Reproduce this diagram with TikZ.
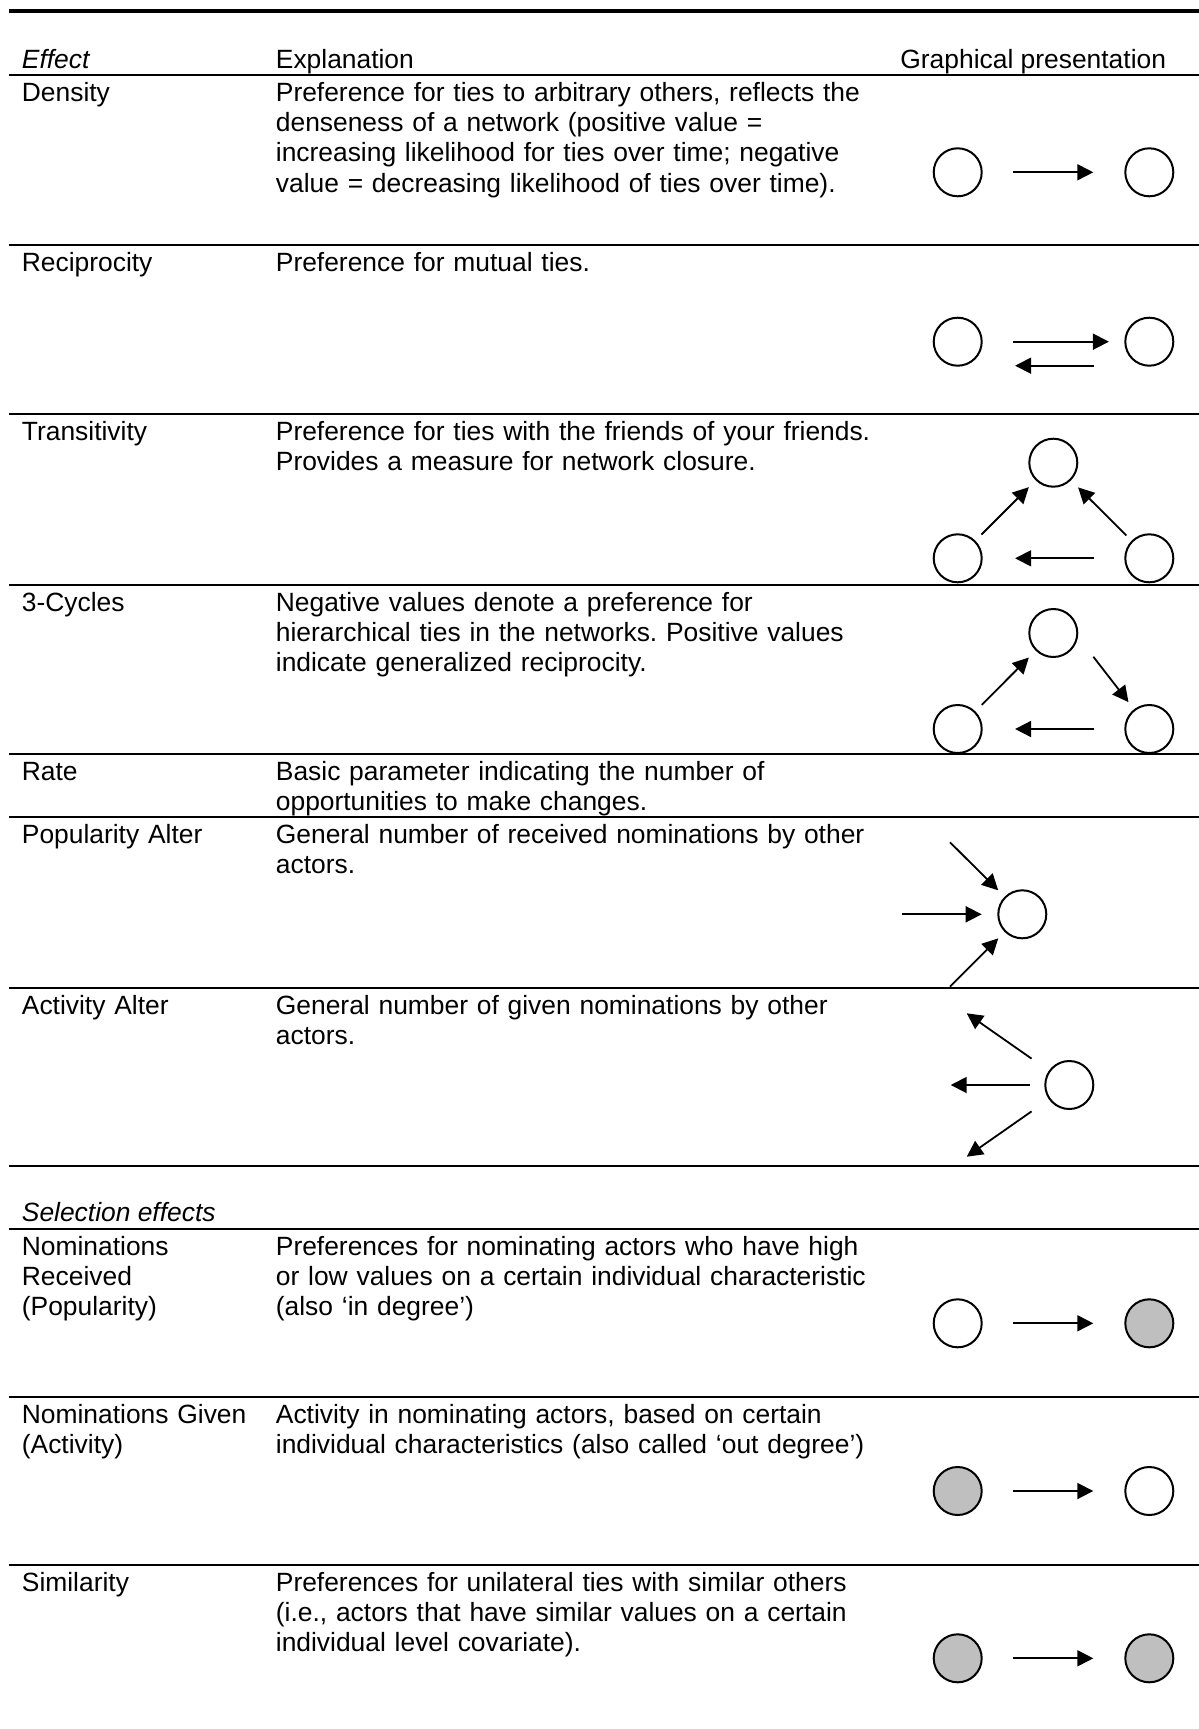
\documentclass[tikz,border=0pt]{standalone}
\usepackage{fontspec}
\setmainfont{Liberation Sans}
\usetikzlibrary{arrows.meta, positioning}
\frenchspacing

\tikzset{
  actor/.style={circle, draw, line width=1pt, minimum size=24pt, inner sep=0pt, outer sep=0pt},
  covar/.style={actor, fill=black!25},
  tie/.style={line width=0.9pt, -{Triangle[length=8pt, width=8pt]}},
  rule/.style={line width=1.1pt},
  lab/.style={anchor=base west, inner sep=0pt},
  eff/.style={lab, text width=130pt, align=left},
  expl/.style={lab, text width=320pt, align=left}
}

\begin{document}
\begin{tikzpicture}[x=0.5pt, y=-0.5pt, on grid, node distance=95.8pt,
    every node/.style={font=\fontsize{13.2}{15.2}\selectfont}]
  \useasboundingbox (0,0) rectangle (1199,1729);

  % table rules
  \draw[line width=2pt] (9,11) -- (1199,11);
  \foreach \y in {75,245,414,585,754,817,988,1166,1229,1397,1565}
    \draw[rule] (9,\y) -- (1199,\y);

  % header
  \node[lab] (hEff) at (21.5,68)  {\textit{Effect}};
  \node[lab] (hExp) at (275.5,68) {Explanation};
  \node[lab] (hGra) at (900,68)   {Graphical presentation};

  % texts
  \node[eff]  (effDen) at (21.5,101)  {Density};
  \node[expl] (expDen) at (275.5,101) {Preference for ties to arbitrary others, reflects the\\
    denseness of a network (positive value =\\
    increasing likelihood for ties over time; negative\\
    value = decreasing likelihood of ties over time).};
  \node[eff]  (effRec) at (21.5,271)  {Reciprocity};
  \node[expl] (expRec) at (275.5,271) {Preference for mutual ties.};
  \node[eff]  (effTra) at (21.5,440)  {Transitivity};
  \node[expl] (expTra) at (275.5,440) {Preference for ties with the friends of your friends.\\
    Provides a measure for network closure.};
  \node[eff]  (effCyc) at (21.5,611)  {3-Cycles};
  \node[expl] (expCyc) at (275.5,611) {Negative values denote a preference for\\
    hierarchical ties in the networks. Positive values\\
    indicate generalized reciprocity.};
  \node[eff]  (effRat) at (21.5,780)  {Rate};
  \node[expl] (expRat) at (275.5,780) {Basic parameter indicating the number of\\
    opportunities to make changes.};
  \node[eff]  (effPop) at (21.5,843)  {Popularity Alter};
  \node[expl] (expPop) at (275.5,843) {General number of received nominations by other\\
    actors.};
  \node[eff]  (effAct) at (21.5,1014)  {Activity Alter};
  \node[expl] (expAct) at (275.5,1014) {General number of given nominations by other\\
    actors.};
  \node[lab]  (hSel)   at (21.5,1221.5) {\textit{Selection effects}};
  \node[eff]  (effNomR) at (21.5,1255)  {Nominations\\ Received\\ (Popularity)};
  \node[expl] (expNomR) at (275.5,1255) {Preferences for nominating actors who have high\\
    or low values on a certain individual characteristic\\
    (also ‘in degree’)};
  \node[eff]  (effNomG) at (21.5,1423)  {Nominations Given\\ (Activity)};
  \node[expl] (expNomG) at (275.5,1423) {Activity in nominating actors, based on certain\\
    individual characteristics (also called ‘out degree’)};
  \node[eff]  (effSim) at (21.5,1591)  {Similarity};
  \node[expl] (expSim) at (275.5,1591) {Preferences for unilateral ties with similar others\\
    (i.e., actors that have similar values on a certain\\
    individual level covariate).};

  % density
  \node[actor] (dA) at (957.7,172.3) {};
  \node[actor] (dB) [right=of dA] {};
  \draw[tie, shorten <=15.8pt, shorten >=16pt] (dA) -- (dB);

  % reciprocity
  \node[actor] (rA) at (957.7,341.7) {};
  \node[actor] (rB) [right=of rA] {};
  \draw[tie, shorten <=15.7pt, shorten >=8.2pt] (rA) -- (rB);
  \draw[tie, shorten <=27.7pt, shorten >=28.7pt] (rB.south) -- (rA.south);

  % transitivity
  \node[actor] (tL) at (957.7,558.3) {};
  \node[actor] (tR) [right=of tL] {};
  \node[actor] (tTop) [above right=47.8pt and 47.8pt of tL] {};
  \draw[tie, shorten <=4.8pt, shorten >=5.3pt] (tL) -- (tTop);
  \draw[tie, shorten <=4.2pt, shorten >=5.5pt] (tR) -- (tTop);
  \draw[tie, shorten <=15.5pt, shorten >=16.7pt] (tR) -- (tL);

  % 3-cycles
  \node[actor] (cL) at (957.7,729) {};
  \node[actor] (cR) [right=of cL] {};
  \node[actor] (cTop) [above right=48pt and 47.8pt of cL] {};
  \coordinate (cOut) at (1093.3,656.7);
  \draw[tie, shorten <=5pt, shorten >=5.3pt] (cL) -- (cTop);
  \draw[tie, shorten >=5pt] (cOut) -- (cR);
  \draw[tie, shorten <=15.5pt, shorten >=16.7pt] (cR) -- (cL);

  % popularity alter
  \node[actor] (pop) at (1022.3,914.3) {};
  \coordinate (pIn1) at (950,842.3);
  \coordinate (pIn2) at (901.7,914.3);
  \coordinate (pIn3) at (950,986.7);
  \draw[tie, shorten >=5pt] (pIn1) -- (pop);
  \draw[tie, shorten >=8.3pt] (pIn2) -- (pop);
  \draw[tie, shorten >=5pt] (pIn3) -- (pop);

  % activity alter
  \node[actor] (act) at (1069.3,1085) {};
  \coordinate (aOut1) at (966.7,1013.3);
  \coordinate (aOut2) at (950.7,1085);
  \coordinate (aOut3) at (966.7,1156.7);
  \draw[tie, shorten <=11pt] (act) -- (aOut1);
  \draw[tie, shorten <=7.6pt] (act) -- (aOut2);
  \draw[tie, shorten <=11pt] (act) -- (aOut3);

  % selection effects
  \node[actor] (nrA) at (957.7,1323.3) {};
  \node[covar] (nrB) [right=of nrA] {};
  \draw[tie, shorten <=15.8pt, shorten >=16pt] (nrA) -- (nrB);

  \node[covar] (ngA) at (957.7,1491) {};
  \node[actor] (ngB) [right=of ngA] {};
  \draw[tie, shorten <=15.8pt, shorten >=16pt] (ngA) -- (ngB);

  \node[covar] (smA) at (957.7,1658.3) {};
  \node[covar] (smB) [right=of smA] {};
  \draw[tie, shorten <=15.8pt, shorten >=16pt] (smA) -- (smB);
\end{tikzpicture}
\end{document}
